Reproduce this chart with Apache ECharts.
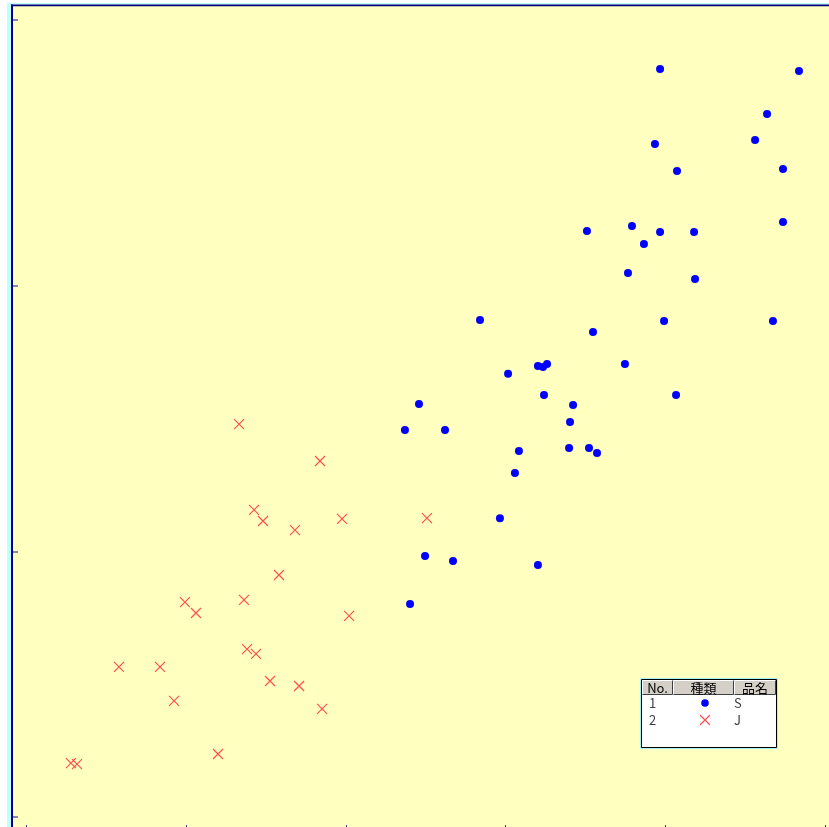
<!DOCTYPE html>
<html><head><meta charset="utf-8">
<script src="https://cdn.jsdelivr.net/npm/echarts@6/dist/echarts.min.js"></script>
<style>html,body{margin:0;padding:0;background:#fff}#c{width:829px;height:827px}</style>
</head><body><div id="c"></div>
<script>
// Series "S" (No.1, blue dots)
const sX = [39.67,48.37,46.37,45.62,39.35,40.73,47.37,47.37,37.91,35.09,39.67,41.80,38.66,37.66,41.86,28.39,39.92,46.74,35.47,37.47,32.02,32.59,32.34,30.15,32.40,40.67,24.57,34.22,34.03,23.69,26.20,30.83,33.97,35.22,35.72,30.58,29.64,24.95,26.70,32.02,24.01];
const sY = [28.16,28.08,26.46,25.48,25.33,24.32,24.39,22.40,22.25,22.06,22.02,22.02,21.57,20.48,20.25,18.71,18.67,18.67,18.26,17.05,16.98,17.05,16.94,16.68,15.88,15.88,15.55,15.51,14.87,14.57,14.57,13.78,13.89,13.89,13.70,12.95,11.25,9.82,9.64,9.49,8.02];
// Series "J" (No.2, red crosses)
const jX = [13.30,18.37,14.24,14.80,19.75,25.07,16.80,15.80,9.91,13.61,10.60,20.19,13.80,14.36,5.78,8.35,15.24,17.06,9.23,18.50,11.98,2.77,3.15];
const jY = [14.79,13.40,11.56,11.14,11.22,11.25,10.80,9.11,8.09,8.17,7.68,7.57,6.32,6.14,5.65,5.65,5.12,4.93,4.37,4.07,2.37,2.03,1.99];
// axis ticks
const xTicks = [0,10,20,30,40,50];
const yTicks = [0,10,20,30];
// legend table
const legendHeader = ['No.','種類','品名'];
const legendRows = [['1','S'],['2','J']];

const zip = (a,b)=>a.map((v,i)=>[v,b[i]]);
const crossPath = 'path://M0,0L10,10M10,0L0,10';
const font = '"Noto Sans CJK JP","Noto Sans",sans-serif';

const chart = echarts.init(document.getElementById('c'));
const g = [];
// frame decorations
g.push({type:'rect',shape:{x:0,y:0,width:829,height:3},style:{fill:'#fff'},z:1});
g.push({type:'rect',shape:{x:0,y:0,width:7,height:827},style:{fill:'#fff'},z:1});
g.push({type:'rect',shape:{x:7,y:3,width:822,height:1.4},style:{fill:'#C0FFFF'},z:1});
g.push({type:'rect',shape:{x:7,y:3,width:4,height:824},style:{fill:'#C0FFFF'},z:1});
g.push({type:'rect',shape:{x:11,y:4.4,width:818,height:1.8},style:{fill:'#000080'},z:1});
g.push({type:'rect',shape:{x:11,y:4.4,width:2,height:823},style:{fill:'#000080'},z:1});
// legend table
const L = {x:642, y:680, w:134, h:67};
g.push({type:'rect',shape:{x:L.x-1.5,y:L.y-1.5,width:L.w+3,height:L.h+3},style:{fill:'none',stroke:'#A8F0F8',lineWidth:1},z:50});
g.push({type:'rect',shape:{x:L.x-0.5,y:L.y-0.5,width:L.w+1,height:L.h+1},style:{fill:'#fff',stroke:'#000',lineWidth:1},z:50});
const cols = [[642,673],[673,734],[734,776]];
cols.forEach((c,i)=>{
  g.push({type:'rect',shape:{x:c[0],y:680,width:c[1]-c[0],height:15},style:{fill:'#D4D0C8'},z:51});
  g.push({type:'polyline',shape:{points:[[c[0]+0.5,694.5],[c[0]+0.5,680.5],[c[1]-0.5,680.5]]},style:{stroke:'#fff',lineWidth:1,fill:'none'},z:52});
  g.push({type:'polyline',shape:{points:[[c[0]+0.5,694.5],[c[1]-0.5,694.5],[c[1]-0.5,680.5]]},style:{stroke:'#404040',lineWidth:1,fill:'none'},z:52});
  g.push({type:'text',style:{text:legendHeader[i],x:(c[0]+c[1])/2,y:688,align:'center',verticalAlign:'middle',fill:'#000',font:'13px '+font},z:53});
});
legendRows.forEach((r,i)=>{
  const y = 703 + i*17;
  g.push({type:'text',style:{text:r[0],x:649,y:y,verticalAlign:'middle',fill:'#404040',font:'13px '+font},z:53});
  g.push({type:'text',style:{text:r[1],x:734,y:y,verticalAlign:'middle',fill:'#404040',font:'13px '+font},z:53});
});
g.push({type:'circle',shape:{cx:705,cy:703,r:3.8},style:{fill:'#0000FF'},z:53});
g.push({type:'line',shape:{x1:700,y1:715,x2:710,y2:725},style:{stroke:'#FF5050',lineWidth:1.2},z:53});
g.push({type:'line',shape:{x1:710,y1:715,x2:700,y2:725},style:{stroke:'#FF5050',lineWidth:1.2},z:53});

chart.setOption({
  animation:false,
  backgroundColor:'#FFFFC0',
  grid:{left:26.7,top:20,width:798.3,height:797,containLabel:false},
  xAxis:{type:'value',min:xTicks[0],max:xTicks[xTicks.length-1],interval:xTicks[1]-xTicks[0],offset:12,
    axisLine:{show:false,onZero:false},axisLabel:{show:false},splitLine:{show:false},
    axisTick:{show:true,inside:true,length:4,lineStyle:{color:'#404080',width:1}}},
  yAxis:{type:'value',min:yTicks[0],max:yTicks[yTicks.length-1],interval:yTicks[1]-yTicks[0],offset:13.7,
    axisLine:{show:false,onZero:false},axisLabel:{show:false},splitLine:{show:false},
    axisTick:{show:true,inside:true,length:5,lineStyle:{color:'#6060A8',width:1.5}}},
  series:[
    {name:'S',type:'scatter',data:zip(sX,sY),symbol:'circle',symbolSize:8,clip:false,
      itemStyle:{color:'#0000FF',opacity:1}},
    {name:'J',type:'scatter',data:zip(jX,jY),symbol:crossPath,symbolSize:10,clip:false,
      itemStyle:{color:'none',borderColor:'#FF5050',borderWidth:1.2,opacity:1}}
  ],
  graphic:g
});
</script></body></html>
